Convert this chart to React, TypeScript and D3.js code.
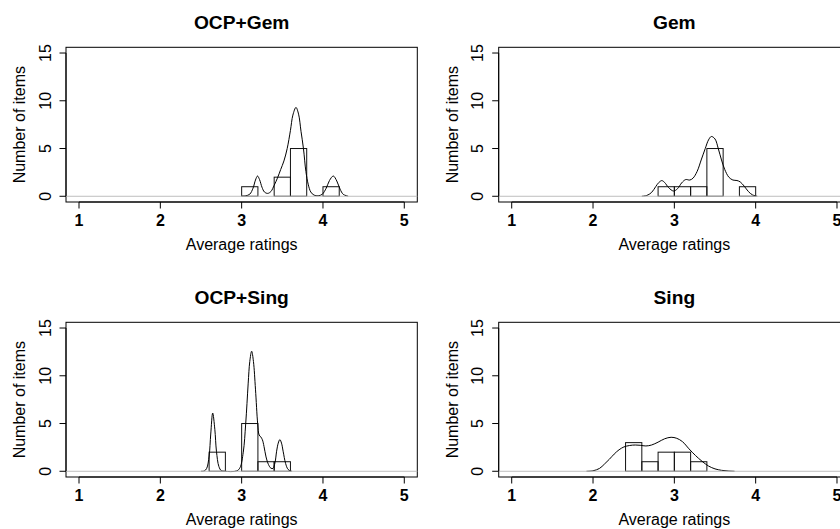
import React from "react";
import * as d3 from "d3";

// ---------- data ----------
const PANEL_TITLES = ["OCP+Gem", "Gem", "OCP+Sing", "Sing"];
const X_TICKS = [1, 2, 3, 4, 5];
const Y_TICKS = [0, 5, 10, 15];
const BIN_WIDTH = 0.2;

const ocpGemBinStarts = [3.0, 3.4, 3.6, 4.0];
const ocpGemCounts = [1, 2, 5, 1];
const gemBinStarts = [2.8, 3.0, 3.2, 3.4, 3.8];
const gemCounts = [1, 1, 1, 5, 1];
const ocpSingBinStarts = [2.6, 3.0, 3.2, 3.4];
const ocpSingCounts = [2, 5, 1, 1];
const singBinStarts = [2.4, 2.6, 2.8, 3.0, 3.2];
const singCounts = [3, 1, 2, 2, 1];

const ocpGemDensityX = [3.0, 3.05, 3.1, 3.14, 3.17, 3.195, 3.22, 3.25, 3.28, 3.32, 3.36, 3.4, 3.44, 3.48, 3.52, 3.56, 3.6, 3.63, 3.668, 3.7, 3.73, 3.76, 3.79, 3.82, 3.85, 3.89, 3.94, 3.99, 4.04, 4.08, 4.127, 4.17, 4.21, 4.25, 4.31];
const ocpGemDensityY = [0.02, 0.05, 0.22, 0.85, 1.7, 2.12, 1.75, 0.95, 0.45, 0.3, 0.5, 1.15, 1.9, 2.8, 3.7, 5.0, 6.9, 8.5, 9.3, 8.6, 6.8, 5.0, 2.6, 1.2, 0.45, 0.12, 0.05, 0.2, 0.85, 1.65, 2.12, 1.6, 0.75, 0.2, 0.01];

const gemDensityX = [2.6, 2.66, 2.72, 2.77, 2.81, 2.846, 2.88, 2.93, 2.99, 3.04, 3.09, 3.14, 3.19, 3.23, 3.28, 3.33, 3.38, 3.42, 3.455, 3.5, 3.54, 3.58, 3.62, 3.67, 3.72, 3.77, 3.81, 3.86, 3.91, 3.96, 4.02];
const gemDensityY = [0.0, 0.08, 0.4, 1.0, 1.45, 1.64, 1.45, 0.9, 0.55, 0.8, 1.4, 1.75, 1.7, 1.9, 2.6, 3.8, 5.0, 5.9, 6.26, 6.0, 5.0, 3.8, 2.8, 2.0, 1.7, 1.65, 1.5, 1.05, 0.5, 0.15, 0.0];

const ocpSingDensityX = [2.5, 2.54, 2.57, 2.6, 2.62, 2.644, 2.67, 2.69, 2.72, 2.75, 2.79, 2.94, 2.98, 3.02, 3.05, 3.08, 3.1, 3.123, 3.145, 3.17, 3.197, 3.215, 3.235, 3.255, 3.275, 3.3, 3.33, 3.36, 3.385, 3.41, 3.43, 3.45, 3.47, 3.49, 3.51, 3.54, 3.57, 3.6, 3.62];
const ocpSingDensityY = [0, 0.03, 0.3, 1.6, 3.9, 6.1, 4.4, 2.1, 0.5, 0.06, 0, 0.04, 0.38, 2.0, 5.0, 9.15, 11.5, 12.57, 11.5, 8.6, 5.0, 3.8, 3.6, 3.3, 2.6, 1.5, 0.7, 0.32, 0.3, 0.9, 2.1, 2.95, 3.32, 2.95, 2.1, 0.83, 0.2, 0.03, 0];

const singDensityX = [1.92, 2.0, 2.08, 2.14, 2.2, 2.26, 2.32, 2.38, 2.45, 2.52, 2.58, 2.65, 2.72, 2.8, 2.88, 2.96, 3.03, 3.1, 3.18, 3.26, 3.34, 3.42, 3.5, 3.58, 3.66, 3.74];
const singDensityY = [0, 0.05, 0.3, 0.75, 1.25, 1.8, 2.25, 2.55, 2.7, 2.75, 2.72, 2.65, 2.75, 3.05, 3.4, 3.56, 3.45, 3.1, 2.35, 1.65, 1.05, 0.55, 0.25, 0.1, 0.03, 0];

const PANELS = [
  { title: PANEL_TITLES[0], starts: ocpGemBinStarts, counts: ocpGemCounts, dx: ocpGemDensityX, dy: ocpGemDensityY },
  { title: PANEL_TITLES[1], starts: gemBinStarts, counts: gemCounts, dx: gemDensityX, dy: gemDensityY },
  { title: PANEL_TITLES[2], starts: ocpSingBinStarts, counts: ocpSingCounts, dx: ocpSingDensityX, dy: ocpSingDensityY },
  { title: PANEL_TITLES[3], starts: singBinStarts, counts: singCounts, dx: singDensityX, dy: singDensityY },
];

// ---------- layout ----------
const W = 840;
const H = 529;
const PANEL_DX = 432.7;
const PANEL_DY = 275;
const PLOT = { left: 66, right: 417.3, top: 47.3, bottom: 202 };
const FONT = "'Liberation Sans', Arial, Helvetica, sans-serif";

const xScale = d3.scaleLinear().domain([0.84, 5.16]).range([PLOT.left, PLOT.right]);
const yScale = d3.scaleLinear().domain([-0.6, 15.6]).range([PLOT.bottom, PLOT.top]);

const densityLine = d3
  .line<[number, number]>()
  .x((d) => xScale(d[0]))
  .y((d) => yScale(d[1]))
  .curve(d3.curveCatmullRom.alpha(0.5));

function Panel({ p, ox, oy }: { p: any; ox: number; oy: number }) {
  const pts: [number, number][] = p.dx.map((x: number, i: number) => [x, p.dy[i]]);
  const cx = (PLOT.left + PLOT.right) / 2;
  const cy = (PLOT.top + PLOT.bottom) / 2;
  return (
    <g transform={`translate(${ox},${oy})`}>
      <text x={cx} y={29.3} textAnchor="middle" fontSize={19.2} fontWeight="bold" fontFamily={FONT}>
        {p.title}
      </text>
      <rect
        x={PLOT.left}
        y={PLOT.top}
        width={PLOT.right - PLOT.left}
        height={PLOT.bottom - PLOT.top}
        fill="none"
        stroke="#000"
        strokeWidth={1}
      />
      {p.starts.map((s: number, i: number) => (
        <rect
          key={i}
          x={xScale(s)}
          y={yScale(p.counts[i])}
          width={xScale(s + BIN_WIDTH) - xScale(s)}
          height={yScale(0) - yScale(p.counts[i])}
          fill="none"
          stroke="#111"
          strokeWidth={1}
        />
      ))}
      <path d={densityLine(pts) || ""} fill="none" stroke="#000" strokeWidth={1} />
      <line x1={PLOT.left} x2={PLOT.right} y1={yScale(0)} y2={yScale(0)} stroke="#bebebe" strokeWidth={1} />
      <line x1={xScale(X_TICKS[0])} x2={xScale(X_TICKS[X_TICKS.length - 1])} y1={PLOT.bottom} y2={PLOT.bottom} stroke="#000" />
      {X_TICKS.map((t) => (
        <g key={t}>
          <line x1={xScale(t)} x2={xScale(t)} y1={PLOT.bottom} y2={PLOT.bottom + 6.5} stroke="#000" />
          <text x={xScale(t)} y={226} textAnchor="middle" fontSize={16} fontWeight="bold" fontFamily={FONT}>
            {t}
          </text>
        </g>
      ))}
      <text x={cx} y={250} textAnchor="middle" fontSize={16} fontFamily={FONT}>
        Average ratings
      </text>
      <line x1={PLOT.left} x2={PLOT.left} y1={yScale(Y_TICKS[0])} y2={yScale(Y_TICKS[Y_TICKS.length - 1])} stroke="#000" />
      {Y_TICKS.map((t) => (
        <g key={t}>
          <line x1={PLOT.left - 6.5} x2={PLOT.left} y1={yScale(t)} y2={yScale(t)} stroke="#000" />
          <text
            transform={`translate(50.7,${yScale(t)}) rotate(-90)`}
            textAnchor="middle"
            fontSize={16}
            fontFamily={FONT}
          >
            {t}
          </text>
        </g>
      ))}
      <text transform={`translate(25,${cy}) rotate(-90)`} textAnchor="middle" fontSize={16} fontFamily={FONT}>
        Number of items
      </text>
    </g>
  );
}

export default function App() {
  return (
    <svg
      width={W}
      height={H}
      style={{ position: "absolute", left: 0, top: 0, background: "#fff", display: "block" }}
    >
      <rect width={W} height={H} fill="#fff" />
      {PANELS.map((p, i) => (
        <Panel key={i} p={p} ox={(i % 2) * PANEL_DX} oy={Math.floor(i / 2) * PANEL_DY} />
      ))}
    </svg>
  );
}
